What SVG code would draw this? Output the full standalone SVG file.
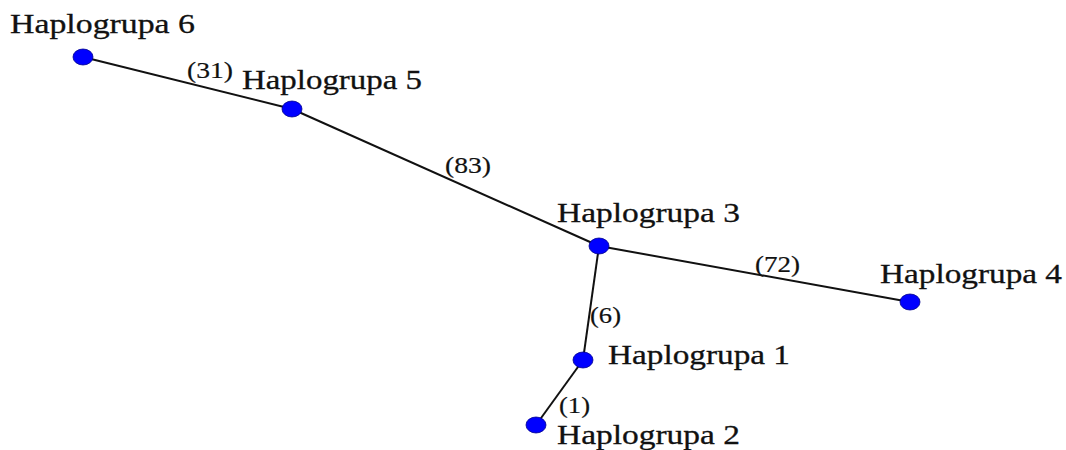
<svg xmlns="http://www.w3.org/2000/svg" width="1066" height="450" viewBox="0 0 1066 450">
<style>
.e{stroke:#111;stroke-width:2;fill:none}
.n{fill:#0000ff;stroke:#00008b;stroke-width:0.8}
.t{font-family:"Liberation Serif","Times New Roman",serif;font-size:28px;fill:#111;stroke:#111;stroke-width:0.3}
.l{font-family:"Liberation Serif","Times New Roman",serif;font-size:23px;fill:#111;stroke:#111;stroke-width:0.2}
</style>
<rect width="1066" height="450" fill="#fff"/>
<g id="connectors">
<line class="e" x1="83" y1="57" x2="292" y2="109"/>
<line class="e" x1="292" y1="109" x2="599" y2="246"/>
<line class="e" x1="599" y1="246" x2="910" y2="302"/>
<line class="e" x1="599" y1="246" x2="583" y2="360"/>
<line class="e" x1="583" y1="360" x2="536" y2="425"/>
<text class="l" x="187" y="78" textLength="46" lengthAdjust="spacingAndGlyphs">(31)</text>
<text class="l" x="445" y="173" textLength="46" lengthAdjust="spacingAndGlyphs">(83)</text>
<text class="l" x="755" y="272" textLength="45" lengthAdjust="spacingAndGlyphs">(72)</text>
<text class="l" x="590" y="323" textLength="31" lengthAdjust="spacingAndGlyphs">(6)</text>
<text class="l" x="559" y="413" textLength="31" lengthAdjust="spacingAndGlyphs">(1)</text>
</g>
<g id="h6"><ellipse class="n" cx="83" cy="57" rx="10" ry="8"/><text class="t" x="10" y="33" textLength="185" lengthAdjust="spacingAndGlyphs">Haplogrupa 6</text></g>
<g id="h5"><ellipse class="n" cx="292" cy="109" rx="10" ry="8"/><text class="t" x="242" y="89" textLength="180" lengthAdjust="spacingAndGlyphs">Haplogrupa 5</text></g>
<g id="h3"><ellipse class="n" cx="599" cy="246" rx="10" ry="8"/><text class="t" x="557" y="222" textLength="183" lengthAdjust="spacingAndGlyphs">Haplogrupa 3</text></g>
<g id="h4"><ellipse class="n" cx="910" cy="302" rx="10" ry="8"/><text class="t" x="880" y="283" textLength="182" lengthAdjust="spacingAndGlyphs">Haplogrupa 4</text></g>
<g id="h1"><ellipse class="n" cx="583" cy="360" rx="10" ry="8"/><text class="t" x="608" y="364" textLength="182" lengthAdjust="spacingAndGlyphs">Haplogrupa 1</text></g>
<g id="h2"><ellipse class="n" cx="536" cy="425" rx="10" ry="8"/><text class="t" x="557" y="444" textLength="183" lengthAdjust="spacingAndGlyphs">Haplogrupa 2</text></g>
</svg>
